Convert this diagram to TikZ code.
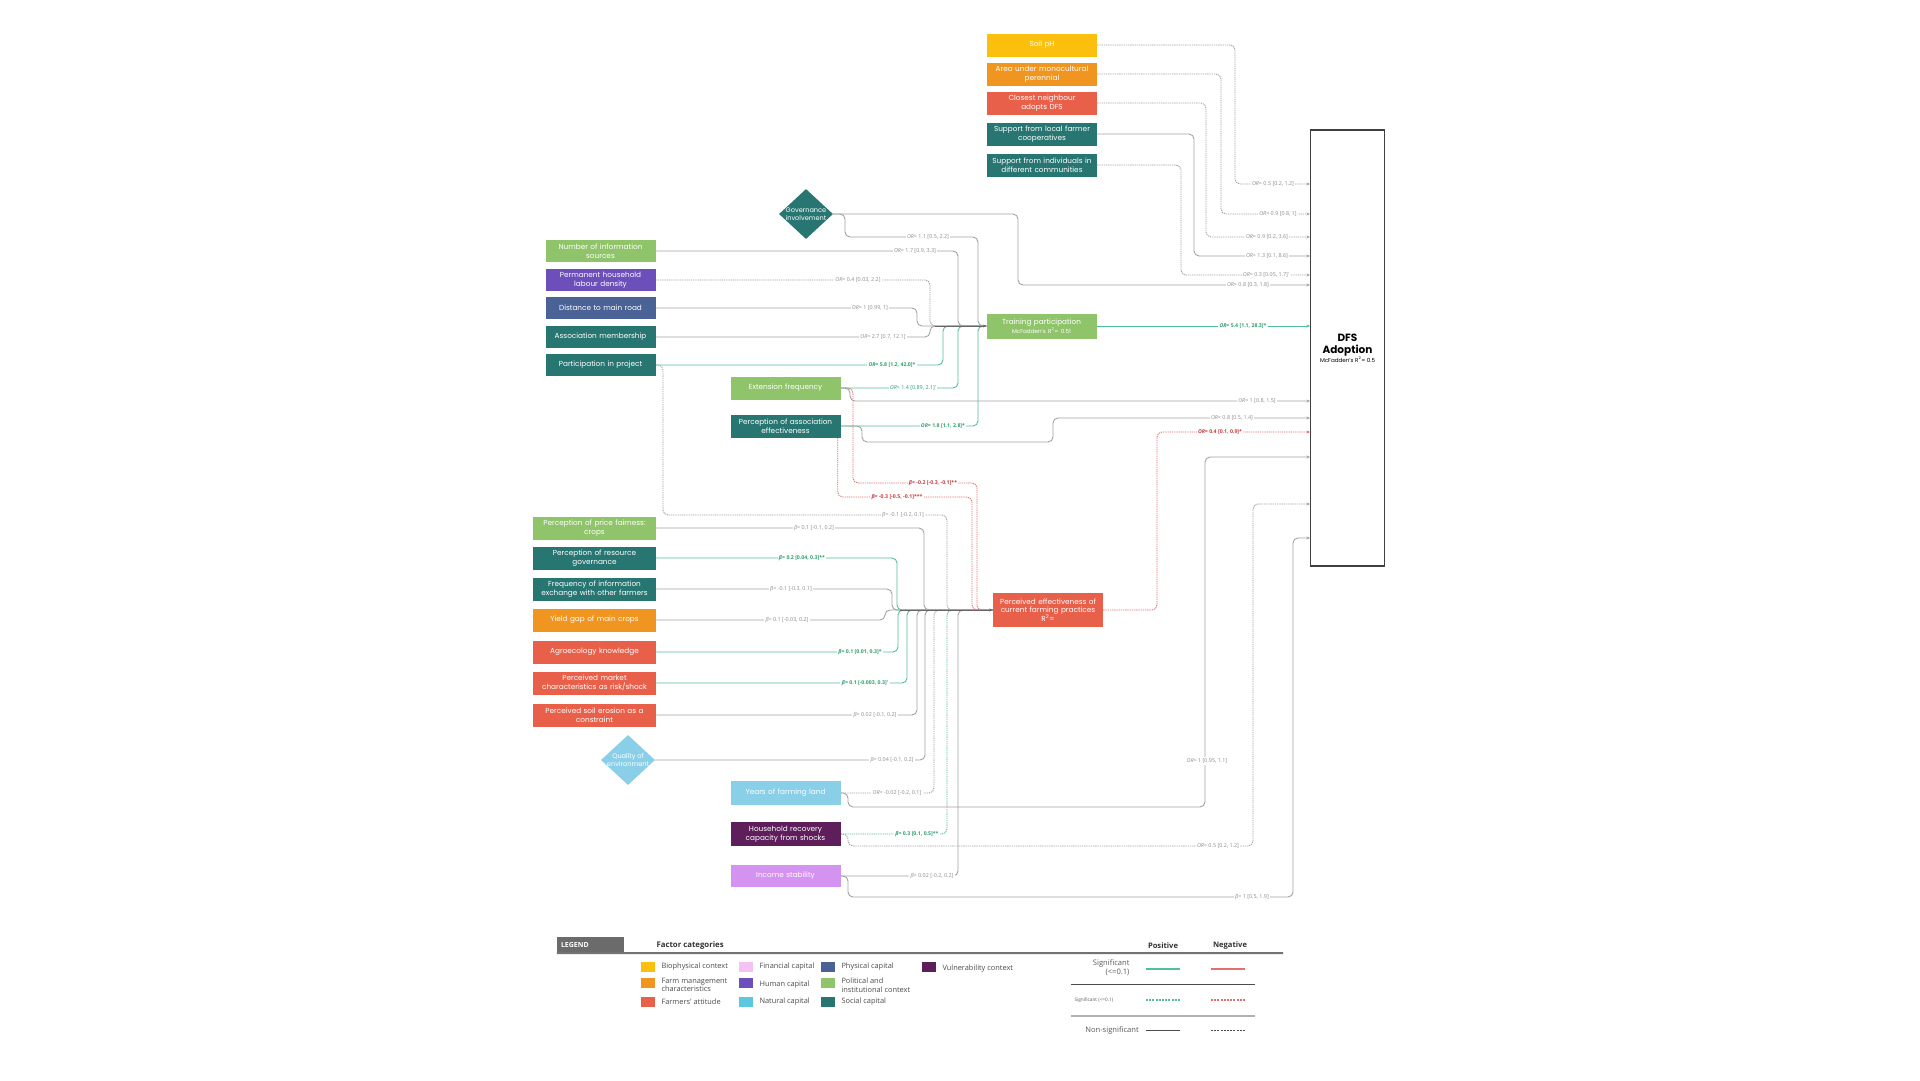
\documentclass[tikz,border=0pt]{standalone}
\usepackage{fontspec}
\setmainfont{Poppins}
\newfontfamily\lblfont{Open Sans}
\usetikzlibrary{shapes.geometric,arrows.meta,backgrounds}
\definecolor{cGold}{HTML}{FBBF0E}
\definecolor{cOrange}{HTML}{F0951F}
\definecolor{cRed}{HTML}{E9604A}
\definecolor{cTeal}{HTML}{287672}
\definecolor{cLGreen}{HTML}{90C46A}
\definecolor{cPurple}{HTML}{6C4FBB}
\definecolor{cSlate}{HTML}{4A6295}
\definecolor{cLBlue}{HTML}{89CFE8}
\definecolor{cCyan}{HTML}{5BC8E0}
\definecolor{cDPurple}{HTML}{5E1E5B}
\definecolor{cLilac}{HTML}{D493F0}
\definecolor{cPink}{HTML}{F3C4F3}
\definecolor{cLine}{HTML}{A2A2A2}
\definecolor{cGreenL}{HTML}{52BF96}
\definecolor{cRedL}{HTML}{E27070}
\definecolor{cGreenT}{HTML}{2E9F6E}
\definecolor{cRedT}{HTML}{C43C3C}
\definecolor{cLeg}{HTML}{6B6B6B}
\hyphenpenalty=10000
\exhyphenpenalty=10000
\newcommand{\oddr}{\textit{OR}}
\newcommand{\bcoef}{\textit{β}}

\begin{document}
\begin{tikzpicture}[x=1pt,y=-1pt,
  box/.style={rectangle,minimum width=110pt,minimum height=23pt,text width=108pt,align=center,inner sep=1pt,text=white,font=\fontsize{7.3}{8.8}\selectfont},
  wbox/.style={box,minimum width=123pt,text width=121pt},
  dia/.style={diamond,minimum width=54pt,minimum height=50pt,inner sep=0pt},
  diatxt/.style={text=white,align=center,font=\fontsize{6.6}{8}\selectfont},
  lbl/.style={fill=white,inner sep=1.3pt,text=black!45,font=\lblfont\fontsize{5.4}{6}\selectfont},
  lblg/.style={lbl,text=cGreenT,font=\lblfont\bfseries\fontsize{5.2}{6}\selectfont},
  lblr/.style={lbl,text=cRedT,font=\lblfont\bfseries\fontsize{5.2}{6}\selectfont},
  ns/.style={draw=cLine,line width=0.9pt,rounded corners=5pt},
  nsd/.style={ns,dash pattern=on 1.3pt off 0.9pt},
  sg/.style={ns,draw=cGreenL},
  sgd/.style={sg,dash pattern=on 1.3pt off 0.9pt},
  srd/.style={ns,draw=cRedL,dash pattern=on 1.3pt off 0.9pt},
  tip/.style={-{Stealth[length=3.5pt,width=3pt]}},
  swatch/.style={minimum width=14pt,minimum height=10pt,inner sep=0pt},
  legtxt/.style={anchor=west,align=left,text=black!70,font=\lblfont\fontsize{7.4}{8.6}\selectfont}
]
\useasboundingbox (0,0) rectangle (1920,1080);

% outcome boxes
\node[draw=black!75,line width=1.1pt,minimum width=74pt,minimum height=436pt,align=center,font=\bfseries\fontsize{10.5}{12}\selectfont] (dfs) at (1347.5,348)
  {DFS\\Adoption\\[-3pt]{\mdseries\fontsize{5.6}{6}\selectfont McFadden's R\textsuperscript{2}= 0.5}};
\node[box,fill=cLGreen,minimum width=109pt,minimum height=25pt] (train) at (1041.5,326)
  {Training participation\\{\fontsize{5.6}{7}\selectfont McFadden's R\textsuperscript{2}= 0.51}};
\node[box,fill=cRed,minimum height=34pt] (perc) at (1048,610)
  {Perceived effectiveness of\\current farming practices\\R\textsuperscript{2}=};

% factors straight to DFS
\node[box,fill=cGold] (soil) at (1042,45) {Soil pH};
\node[box,fill=cOrange] (mono) at (1042,74) {Area under monocultural\\perennial};
\node[box,fill=cRed] (neigh) at (1042,103) {Closest neighbour\\adopts DFS};
\node[box,fill=cTeal] (coop) at (1042,134) {Support from local farmer\\cooperatives};
\node[box,fill=cTeal] (indiv) at (1042,165) {Support from individuals in\\different communities};
\node[dia,fill=cTeal,label={[diatxt]center:Governance\\involvement}] (gov) at (806,214) {};

% factors of training
\node[box,fill=cLGreen,minimum width=109pt,minimum height=22pt] (num) at (600.5,251) {Number of information\\sources};
\node[box,fill=cPurple,minimum width=109pt,minimum height=22pt] (labour) at (600.5,280) {Permanent household\\labour density};
\node[box,fill=cSlate,minimum width=109pt,minimum height=22pt] (road) at (600.5,308) {Distance to main road};
\node[box,fill=cTeal,minimum width=109pt,minimum height=22pt] (assoc) at (600.5,337) {Association membership};
\node[box,fill=cTeal,minimum width=109pt,minimum height=22pt] (proj) at (600.5,365) {Participation in project};
\node[box,fill=cLGreen,minimum width=109pt] (ext) at (785.5,388) {Extension frequency};
\node[box,fill=cTeal,minimum width=109pt] (aeff) at (785.5,426) {Perception of association\\effectiveness};

% factors of perceived effectiveness
\node[wbox,fill=cLGreen] (price) at (594.5,528) {Perception of price fairness:\\crops};
\node[wbox,fill=cTeal] (resgov) at (594.5,558) {Perception of resource\\governance};
\node[wbox,fill=cTeal] (freq) at (594.5,589) {Frequency of information\\exchange with other farmers};
\node[wbox,fill=cOrange] (yield) at (594.5,620) {Yield gap of main crops};
\node[wbox,fill=cRed] (agro) at (594.5,652) {Agroecology knowledge};
\node[wbox,fill=cRed] (market) at (594.5,683) {Perceived market\\characteristics as risk/shock};
\node[wbox,fill=cRed] (eros) at (594.5,715) {Perceived soil erosion as a\\constraint};
\node[dia,fill=cLBlue,label={[diatxt]center:Quality of\\environment}] (qual) at (628,760) {};
\node[box,fill=cLBlue,minimum width=109pt,minimum height=24pt] (years) at (785.5,793) {Years of farming land};
\node[box,fill=cDPurple,minimum width=109pt,minimum height=24pt] (recov) at (785.5,834) {Household recovery\\capacity from shocks};
\node[box,fill=cLilac,minimum width=109pt,minimum height=22pt] (income) at (785.5,876) {Income stability};

% estimates
\node[lbl] (lSoil) at (1273,184) {\oddr= 0.5 [0.2, 1.2]};
\node[lbl] (lMono) at (1278,214) {\oddr= 0.9 [0.8, 1]};
\node[lbl] (lNeigh) at (1267,237) {\oddr= 0.9 [0.2, 3.6]};
\node[lbl] (lCoop) at (1267,256) {\oddr= 1.3 [0.1, 8.6]};
\node[lbl] (lIndiv) at (1266,275) {\oddr= 0.3 [0.05, 1.7]'};
\node[lbl] (lGov) at (1248,285) {\oddr= 0.8 [0.3, 1.8]};
\node[lblg] (lTrain) at (1243,326) {\oddr= 5.4 [1.1, 28.3]*};
\node[lbl] (lExtD) at (1257,401) {\oddr= 1 [0.8, 1.5]};
\node[lbl] (lAeffD) at (1232,418) {\oddr= 0.8 [0.5, 1.4]};
\node[lblr] (lPerc) at (1220,432) {\oddr= 0.4 [0.1, 0.9]*};
\node[lbl] (lYearsD) at (1207,761) {\oddr= 1 [0.95, 1.1]};
\node[lbl] (lRecovD) at (1218,846) {\oddr= 0.5 [0.2, 1.2]};
\node[lbl] (lIncD) at (1252,897) {\bcoef= 1 [0.5, 1.9]};
\coordinate (inYears) at (1310,457);
\coordinate (inRecov) at (1310,504);
\coordinate (inInc) at (1310,538);

\node[lbl] (lGovT) at (928,237) {\oddr= 1.1 [0.5, 2.2]};
\node[lbl] (lNum) at (915,251) {\oddr= 1.7 [0.9, 3.3]};
\node[lbl] (lLab) at (858,280) {\oddr= 0.4 [0.03, 2.2]};
\node[lbl] (lRoad) at (870,308) {\oddr= 1 [0.99, 1]};
\node[lbl] (lAssoc) at (883,337) {\oddr= 2.7 [0.7, 12.1]};
\node[lblg] (lProj) at (892,365) {\oddr= 5.8 [1.2, 42.0]*};
\node[lbl,text=cGreenT] (lExt) at (913,388) {\oddr= 1.4 [0.89, 2.1]'};
\node[lblg] (lAeff) at (943,426) {\oddr= 1.8 [1.1, 2.8]*};

\node[lbl] (lProjP) at (903,515) {\bcoef= -0.1 [-0.2, 0.1]};
\node[lblr] (lExtP) at (933,483) {\bcoef= -0.2 [-0.3, -0.1]**};
\node[lblr] (lAeffP) at (897,497) {\bcoef= -0.3 [-0.5, -0.1]***};
\node[lbl] (lPrice) at (814,528) {\bcoef= 0.1 [-0.1, 0.2]};
\node[lblg] (lRes) at (802,558) {\bcoef= 0.2 [0.04, 0.3]**};
\node[lbl] (lFreq) at (791,589) {\bcoef= -0.1 [-0.3, 0.1]};
\node[lbl] (lYield) at (787,620) {\bcoef= 0.1 [-0.03, 0.2]};
\node[lblg] (lAgro) at (860,652) {\bcoef= 0.1 [0.01, 0.3]*};
\node[lblg] (lMarket) at (865,683) {\bcoef= 0.1 [-0.003, 0.3]'};
\node[lbl] (lEros) at (875,715) {\bcoef= 0.02 [-0.1, 0.2]};
\node[lbl] (lQual) at (892,760) {\bcoef= 0.04 [-0.1, 0.2]};
\node[lbl] (lYears) at (897,793) {\oddr= -0.02 [-0.2, 0.1]};
\node[lblg] (lRecov) at (917,834) {\bcoef= 0.3 [0.1, 0.5]**};
\node[lbl] (lInc) at (932,876) {\bcoef= 0.02 [-0.2, 0.2]};

\begin{scope}[on background layer]
  \fill[white] (0,0) rectangle (1920,1080);
  % into DFS
  \draw[nsd,tip] (soil.east) -| (1235,184) -- (dfs.west |- lSoil);
  \draw[nsd,tip] (mono.east) -| (1221,214) -- (dfs.west |- lMono);
  \draw[nsd,tip] (neigh.east) -| (1206,237) -- (dfs.west |- lNeigh);
  \draw[ns,tip] (coop.east) -| (1194,256) -- (dfs.west |- lCoop);
  \draw[nsd,tip] (indiv.east) -| (1181,275) -- (dfs.west |- lIndiv);
  \draw[ns,tip] (gov.east) -| (1018,285) -- (dfs.west |- lGov);
  \draw[sg,tip] (train.east) -- (dfs.west |- lTrain);
  \draw[ns,tip] (ext.east) -- (850,388) |- (dfs.west |- lExtD);
  \draw[ns,tip] (aeff.east) -- (862,426) |- (1053,442) |- (dfs.west |- lAeffD);
  \draw[srd,tip] (perc.east) -| (1157,432) -- (dfs.west |- lPerc);
  \draw[ns,tip] (years.east) -- (848,793) |- (1205,807) |- (inYears);
  \draw[nsd,tip] (recov.east) -- (848,834) |- (1253,846) |- (inRecov);
  \draw[ns,tip] (income.east) -- (848,876) |- (1293,897) |- (inInc);
  % into training
  \draw[ns] (gov.east) -- (845,214) |- (978,237) |- (train.west);
  \draw[ns] (num.east) -| (958,326) -- (train.west);
  \draw[nsd] (labour.east) -| (930,326) -- (train.west);
  \draw[ns] (road.east) -| (917,326) -- (train.west);
  \draw[ns] (assoc.east) -| (930,326) -- (train.west);
  \draw[sg] (proj.east) -| (943,326) -- (train.west);
  \draw[sg] (ext.east) -| (958,326) -- (train.west);
  \draw[sg] (aeff.east) -| (978,326) -- (train.west);
  \draw[draw=black!60,line width=1pt,tip] (935,326) -- (train.west);
  % into perceived effectiveness
  \draw[nsd] (proj.east) -- (663,365) |- (947,515) |- (perc.west);
  \draw[srd] (ext.east) -- (853,388) |- (977,483) |- (perc.west);
  \draw[srd] ([xshift=-3pt]aeff.south east) |- (972,497) |- (perc.west);
  \draw[ns] (price.east) -| (924,610) -- (perc.west);
  \draw[sg] (resgov.east) -| (897,610) -- (perc.west);
  \draw[ns] (freq.east) -| (892,610) -- (perc.west);
  \draw[ns] (yield.east) -| (885,610) -- (perc.west);
  \draw[sg] (agro.east) -| (898,610) -- (perc.west);
  \draw[sg] (market.east) -| (907,610) -- (perc.west);
  \draw[ns] (eros.east) -| (917,610) -- (perc.west);
  \draw[ns] (qual.east) -| (925,610) -- (perc.west);
  \draw[nsd] (years.east) -| (934,610) -- (perc.west);
  \draw[sgd] (recov.east) -| (947,610) -- (perc.west);
  \draw[ns] (income.east) -| (958,610) -- (perc.west);
  \draw[draw=black!60,line width=1pt,tip] (900,610) -- (perc.west);
\end{scope}

% legend
\node[fill=cLeg,minimum width=67pt,minimum height=16pt,text width=59pt,align=left,inner sep=0pt,text=white,font=\lblfont\bfseries\fontsize{7}{8}\selectfont] (legbox) at (590.5,945) {LEGEND};
\node[anchor=west,text=black!80,font=\lblfont\bfseries\fontsize{7.8}{9}\selectfont] (legcat) at (653,945) {Factor categories};
\draw[line width=2pt,draw=black!55] (legbox.south west) -- (1283,953);
\node[swatch,fill=cGold] (sw1) at (648,967) {};
\node[legtxt] (t1) at (658,967) {Biophysical context};
\node[swatch,fill=cOrange] (sw2) at (648,983) {};
\node[legtxt] (t2) at (658,985) {Farm management\\characteristics};
\node[swatch,fill=cRed] (sw3) at (648,1002) {};
\node[legtxt] (t3) at (658,1002) {Farmers' attitude};
\node[swatch,fill=cPink] (sw4) at (746,967) {};
\node[legtxt] (t4) at (756,967) {Financial capital};
\node[swatch,fill=cPurple] (sw5) at (746,983) {};
\node[legtxt] (t5) at (756,985) {Human capital};
\node[swatch,fill=cCyan] (sw6) at (746,1002) {};
\node[legtxt] (t6) at (756,1002) {Natural capital};
\node[swatch,fill=cSlate] (sw7) at (828,967) {};
\node[legtxt] (t7) at (838,967) {Physical capital};
\node[swatch,fill=cLGreen] (sw8) at (828,983) {};
\node[legtxt] (t8) at (838,985) {Political and\\institutional context};
\node[swatch,fill=cTeal] (sw9) at (828,1002) {};
\node[legtxt] (t9) at (838,1002) {Social capital};
\node[swatch,fill=cDPurple] (sw10) at (929,967) {};
\node[legtxt] (t10) at (939,969) {Vulnerability context};

\node[text=black!80,font=\lblfont\bfseries\fontsize{7.6}{9}\selectfont] (pos) at (1163,946) {Positive};
\node[text=black!80,font=\lblfont\bfseries\fontsize{7.6}{9}\selectfont] (neg) at (1230,946) {Negative};
\node[anchor=east,align=right,text=black!65,font=\lblfont\fontsize{7.6}{9}\selectfont] (sig1) at (1133,968) {Significant\\(<=0.1)};
\draw[line width=1.2pt,draw=cGreenL] (1146,969) -- (1180,969);
\draw[line width=1.2pt,draw=cRedL] (1211,969) -- (1245,969);
\draw[line width=0.8pt,draw=black!70] (1071,984) -- (1255,984);
\node[anchor=west,text=black!65,font=\lblfont\fontsize{4.7}{5}\selectfont] (sig2) at (1071,1000) {Significant (<=0.1)};
\draw[line width=1.2pt,draw=cGreenL,dash pattern=on 2pt off 1.2pt] (1146,1000) -- (1180,1000);
\draw[line width=1.2pt,draw=cRedL,dash pattern=on 2pt off 1.2pt] (1211,1000) -- (1245,1000);
\draw[line width=1.6pt,draw=black!30] (1071,1016) -- (1255,1016);
\node[text=black!65,font=\lblfont\fontsize{7.6}{9}\selectfont] (nsig) at (1112,1030) {Non-significant};
\draw[line width=1pt,draw=black!70] (1146,1030) -- (1180,1030);
\draw[line width=1pt,draw=black!70,dash pattern=on 2pt off 1.2pt] (1211,1030) -- (1245,1030);
\end{tikzpicture}
\end{document}
